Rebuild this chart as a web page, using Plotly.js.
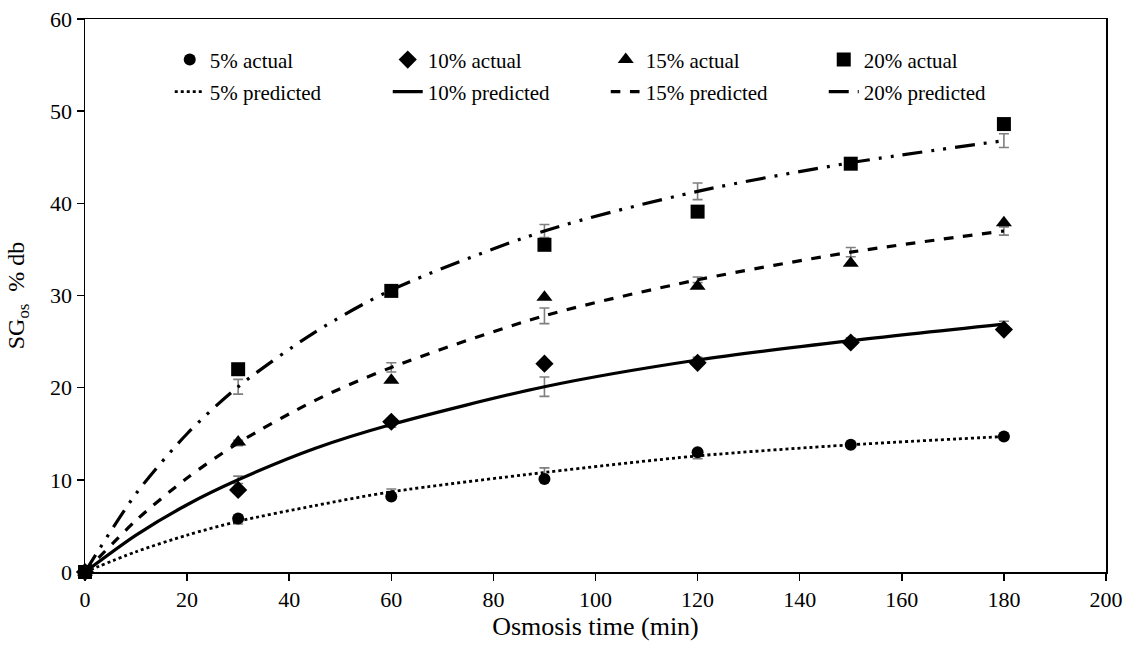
<!DOCTYPE html>
<html>
<head>
<meta charset="utf-8">
<script src="https://cdn.plot.ly/plotly-3.0.1.min.js"></script>
<style>html,body{margin:0;padding:0;background:#fff;}#chart{width:1132px;height:653px;}</style>
</head>
<body>
<div id="chart"></div>
<script>
// Measured points (actual)
var timeActual = [0, 30, 60, 90, 120, 150, 180];
var actual5  = [0, 5.8, 8.2, 10.1, 13.0, 13.8, 14.7];
var actual10 = [0, 8.9, 16.3, 22.6, 22.7, 24.9, 26.3];
var actual15 = [0, 14.1, 20.8, 29.8, 31.0, 33.5, 37.9];
var actual20 = [0, 22.0, 30.5, 35.5, 39.1, 44.3, 48.6];

// Predicted curves
var timePred = [0, 10, 20, 30, 45, 60, 90, 120, 150, 180];
var pred5  = [0, 2.2, 4.0, 5.5, 7.2, 8.7, 10.8, 12.6, 13.8, 14.7];
var pred10 = [0, 4.0, 7.3, 10.0, 13.4, 16.0, 20.1, 23.0, 25.1, 26.9];
var pred15 = [0, 5.6, 10.2, 14.0, 18.6, 22.2, 27.8, 31.7, 34.7, 37.0];
var pred20 = [0, 8.5, 15.0, 20.1, 26.0, 30.6, 37.0, 41.3, 44.4, 46.8];

// Error bars on the predicted curves at the sampling times
var errTimes = [30, 60, 90, 120, 150, 180];
var err5  = [0.3, 0.3, 0.5, 0.3, 0.2, 0.2];
var err10 = [0.4, 0.3, 1.05, 0.3, 0.3, 0.3];
var err15 = [0.3, 0.5, 0.85, 0.3, 0.5, 0.45];
var err20 = [0.8, 0.4, 0.7, 0.9, 0.4, 0.75];

var labelsActual = ['5% actual', '10% actual', '15% actual', '20% actual'];
var labelsPred = ['5% predicted', '10% predicted', '15% predicted', '20% predicted'];

var serif = 'Liberation Serif, Times New Roman, serif';

function predAt(pred, t) { return pred[timePred.indexOf(t)]; }

function predTrace(y, name, dash, width) {
  return {
    x: timePred, y: y, name: name, mode: 'lines', type: 'scatter',
    line: {color: '#000', width: width, dash: dash, shape: 'spline', smoothing: 0.8},
    legend: 'legend2', cliponaxis: false
  };
}
function errTrace(pred, err) {
  return {
    x: errTimes, y: errTimes.map(function (t) { return predAt(pred, t); }),
    mode: 'markers', type: 'scatter', showlegend: false, hoverinfo: 'skip',
    marker: {size: 1, color: 'rgba(0,0,0,0)'},
    error_y: {type: 'data', array: err, visible: true, color: '#7f7f7f', thickness: 1.6, width: 5},
    cliponaxis: false
  };
}
function actTrace(y, name, symbol, size) {
  return {
    x: timeActual, y: y, name: name, mode: 'markers', type: 'scatter',
    marker: {symbol: symbol, size: size, color: '#000', line: {width: 0}},
    legend: 'legend', cliponaxis: false
  };
}

var data = [
  errTrace(pred5, err5),
  errTrace(pred10, err10),
  errTrace(pred15, err15),
  errTrace(pred20, err20),
  predTrace(pred5, labelsPred[0], 'dot', 2.8),
  predTrace(pred10, labelsPred[1], 'solid', 3.2),
  predTrace(pred15, labelsPred[2], 'dash', 3.2),
  predTrace(pred20, labelsPred[3], '20px,9px,3px,9px,3px,9px', 3.2),
  actTrace(actual5, labelsActual[0], 'circle', 12),
  actTrace(actual10, labelsActual[1], 'diamond', 14),
  actTrace(actual15, labelsActual[2], 'triangle-up', 14),
  actTrace(actual20, labelsActual[3], 'square', 14)
];

var axisCommon = {
  showgrid: false, zeroline: false, showline: true, linecolor: '#000', linewidth: 1.5,
  mirror: true, ticks: 'outside', ticklen: 7, tickwidth: 1.5, tickcolor: '#000',
  tickfont: {family: serif, size: 22, color: '#000'}
};

var layout = {
  width: 1132, height: 653,
  margin: {l: 85, r: 26, t: 19, b: 81},
  paper_bgcolor: '#fff', plot_bgcolor: '#fff',
  font: {family: serif, color: '#000'},
  xaxis: Object.assign({}, axisCommon, {
    range: [0, 200], tickvals: [0, 20, 40, 60, 80, 100, 120, 140, 160, 180, 200],
    title: {text: 'Osmosis time (min)', font: {family: serif, size: 26, color: '#000'}, standoff: 4}
  }),
  yaxis: Object.assign({}, axisCommon, {
    range: [0, 60], tickvals: [0, 10, 20, 30, 40, 50, 60],
    title: {text: 'SG<sub>os</sub>\u00a0\u00a0% db', font: {family: serif, size: 24, color: '#000'}, standoff: 18}
  }),
  showlegend: true,
  legend: {
    orientation: 'h', x: 0.083, xanchor: 'left', y: 0.926, yanchor: 'middle',
    font: {family: serif, size: 21, color: '#000'}, bgcolor: 'rgba(0,0,0,0)',
    entrywidth: 173, itemwidth: 30, traceorder: 'normal'
  },
  legend2: {
    orientation: 'h', x: 0.083, xanchor: 'left', y: 0.868, yanchor: 'middle',
    font: {family: serif, size: 21, color: '#000'}, bgcolor: 'rgba(0,0,0,0)',
    entrywidth: 173, itemwidth: 30, traceorder: 'normal'
  }
};

Plotly.newPlot('chart', data, layout, {displayModeBar: false, staticPlot: true});
</script>
</body>
</html>
